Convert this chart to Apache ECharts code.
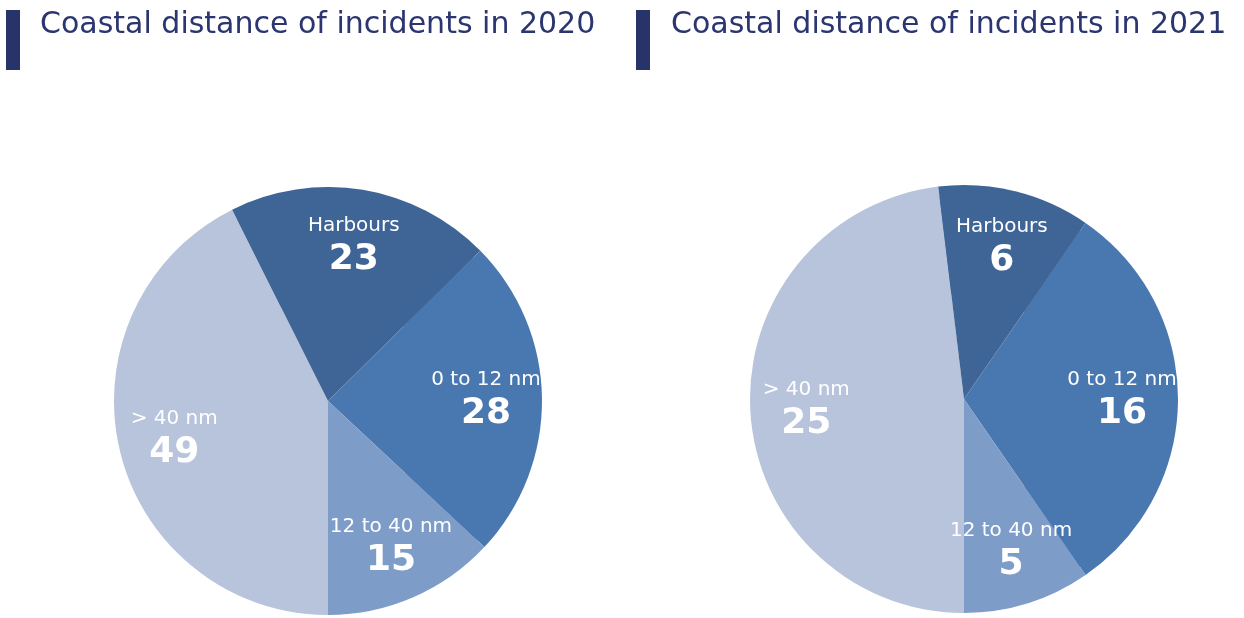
<!DOCTYPE html>
<html>
<head>
<meta charset="utf-8">
<script src="https://cdn.jsdelivr.net/npm/echarts@6/dist/echarts.min.js"></script>
<style>
  html, body { margin: 0; padding: 0; background: #fff; }
  #chart { width: 1244px; height: 618px; }
</style>
</head>
<body>
<div id="chart"></div>
<script>
// categories, in drawing order (clockwise from 6 o'clock)
var categories = ["> 40 nm", "Harbours", "0 to 12 nm", "12 to 40 nm"];
var values2020 = [49, 23, 28, 15];
var values2021 = [25, 6, 16, 5];
var titles = ["Coastal distance of incidents in 2020", "Coastal distance of incidents in 2021"];
var colors = ["#b7c4dc", "#3f6596", "#4978b0", "#7e9cc8"];

var chartDom = document.getElementById("chart");
var myChart = echarts.init(chartDom);

function toData(values) {
  return categories.map(function (name, i) {
    return { name: name, value: values[i], itemStyle: { color: colors[i] } };
  });
}

function pieSeries(values, center) {
  return [
    {
      type: "pie",
      center: center,
      radius: [0, 214],
      startAngle: 270,
      clockwise: true,
      silent: true,
      label: { show: false },
      labelLine: { show: false },
      itemStyle: { borderWidth: 0 },
      emphasis: { disabled: true },
      data: toData(values),
    },
    {
      // transparent ring that only carries the labels
      type: "pie",
      center: center,
      radius: [106, 204],
      startAngle: 270,
      clockwise: true,
      silent: true,
      itemStyle: { color: "transparent", borderWidth: 0 },
      emphasis: { disabled: true },
      label: {
        show: true,
        position: "inside",
        formatter: "{n|{b}}\n{v|{c}}",
        rich: {
          n: { fontFamily: "DejaVu Sans", fontSize: 20, color: "#ffffff", lineHeight: 30 },
          v: { fontFamily: "DejaVu Sans", fontSize: 36, fontWeight: "bold", color: "#ffffff", lineHeight: 38 },
        },
      },
      labelLine: { show: false },
      data: toData(values),
    },
  ];
}

var titleStyle = { fontFamily: "DejaVu Sans", fontSize: 30, fontWeight: "normal", color: "#2b3570" };

var option = {
  animation: false,
  title: [
    { text: titles[0], left: 35, top: 5, textStyle: titleStyle },
    { text: titles[1], left: 666, top: 5, textStyle: titleStyle },
  ],
  graphic: [
    { type: "rect", shape: { x: 6, y: 10, width: 14, height: 60 }, style: { fill: "#283469" } },
    { type: "rect", shape: { x: 636, y: 10, width: 14, height: 60 }, style: { fill: "#283469" } },
  ],
  series: pieSeries(values2020, [328, 401]).concat(pieSeries(values2021, [964, 399])),
};

option && myChart.setOption(option);
</script>
</body>
</html>
